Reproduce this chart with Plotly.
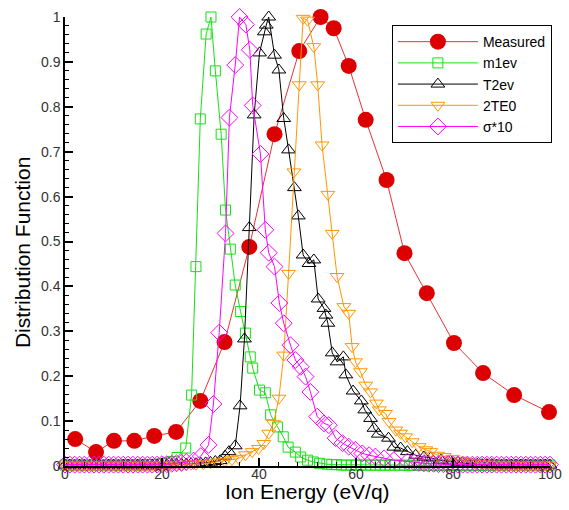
import plotly.graph_objects as go

# ---------------- data ----------------
measured_x = [2.1, 6.4, 10.1, 14.3, 18.4, 22.9, 27.9, 32.9, 38.0, 43.2, 48.3,
              52.7, 55.4, 58.5, 62.0, 66.3, 70.0, 74.6, 80.2, 86.2, 92.6, 99.8]
measured_y = [0.060, 0.031, 0.056, 0.056, 0.067, 0.076, 0.145, 0.276, 0.488, 0.739, 0.924,
              1.000, 0.975, 0.891, 0.771, 0.637, 0.474, 0.385, 0.274, 0.207, 0.158, 0.120]

m1ev_x = [0, 1, 2, 3, 4, 5, 6, 7, 8, 9,
          10, 11, 12, 13, 14, 15, 16, 17, 18, 19,
          20, 21, 22,
          23.1, 24.9, 26.1, 27.0, 27.9, 29.1, 30.1, 31.0, 32.2, 33.1,
          34.1, 35.1, 36.2, 37.2, 38.2, 38.7, 40.1, 41.3, 42.4, 43.8,
          45.0, 46.0, 47.5, 48.6, 50.0, 51.2, 52.5,
          54, 55, 56, 57, 58, 59, 60,
          61, 62, 63, 64, 65, 66, 67, 68, 69, 70,
          71, 72, 73, 74, 75, 76, 77, 78, 79, 80,
          81, 82, 83, 84, 85, 86, 87, 88, 89, 90,
          91, 92, 93, 94, 95, 96, 97, 98, 99, 100]
m1ev_y = [0.002, 0.001, 0.002, 0.002, 0.001, 0.002, 0.002, 0.001, 0.002, 0.002,
          0.002, 0.001, 0.002, 0.002, 0.002, 0.002, 0.002, 0.003, 0.003, 0.004,
          0.005, 0.007, 0.010,
          0.019, 0.040, 0.158, 0.444, 0.773, 0.962, 1.000, 0.880, 0.739, 0.570,
          0.483, 0.403, 0.344, 0.296, 0.243, 0.218, 0.169, 0.163, 0.114, 0.087,
          0.065, 0.042, 0.031, 0.020, 0.013, 0.009, 0.006,
          0.004, 0.003, 0.003, 0.002, 0.002, 0.002, 0.002,
          0.002, 0.002, 0.002, 0.002, 0.002, 0.002, 0.002, 0.002, 0.002, 0.002,
          0.001, 0.002, 0.001, 0.002, 0.001, 0.002, 0.001, 0.002, 0.001, 0.002,
          0.001, 0.002, 0.001, 0.002, 0.001, 0.002, 0.001, 0.002, 0.001, 0.002,
          0.001, 0.002, 0.001, 0.002, 0.001, 0.002, 0.001, 0.002, 0.001, 0.002]

t2ev_x = [0, 1, 2, 3, 4, 5, 6, 7, 8, 9,
          10, 11, 12, 13, 14, 15, 16, 17, 18, 19,
          20, 21, 22, 23, 24, 25, 26, 27, 28, 29,
          30, 31,
          32.0, 33.0, 33.8, 35.1, 36.1, 37.0, 38.0, 39.0, 40.1, 41.1,
          41.5, 42.0, 43.2, 44.1, 45.1, 46.1, 47.3, 48.1, 49.1, 50.3,
          51.3, 52.2, 53.4, 53.8, 54.2, 55.1, 56.1, 57.4, 57.9, 59.4,
          61.1, 61.8, 63.0, 63.7, 64.6, 66.7, 67.8, 69.2, 70.6, 72.3,
          74.0, 75.4, 77.5, 79.5, 81.0,
          82, 83, 84, 85, 86, 87, 88, 89, 90,
          91, 92, 93, 94, 95, 96, 97, 98, 99, 100]
t2ev_y = [0.002, 0.002, 0.001, 0.002, 0.002, 0.001, 0.002, 0.002, 0.001, 0.002,
          0.002, 0.001, 0.002, 0.002, 0.001, 0.002, 0.002, 0.001, 0.002, 0.002,
          0.002, 0.003, 0.003, 0.003, 0.004, 0.004, 0.005, 0.005, 0.006, 0.007,
          0.008, 0.010,
          0.012, 0.022, 0.032, 0.045, 0.134, 0.283, 0.531, 0.782, 0.920, 0.967,
          0.982, 1.000, 0.915, 0.882, 0.774, 0.704, 0.620, 0.557, 0.470, 0.451,
          0.459, 0.372, 0.351, 0.336, 0.318, 0.252, 0.232, 0.243, 0.203, 0.167,
          0.145, 0.125, 0.106, 0.084, 0.071, 0.062, 0.042, 0.040, 0.032, 0.024,
          0.020, 0.018, 0.013, 0.011, 0.008,
          0.006, 0.005, 0.004, 0.004, 0.003, 0.003, 0.003, 0.002, 0.002,
          0.002, 0.002, 0.002, 0.002, 0.002, 0.002, 0.002, 0.002, 0.002, 0.002]

te0_x = [0, 1, 2, 3, 4, 5, 6, 7, 8, 9,
         10, 11, 12, 13, 14, 15, 16, 17, 18, 19,
         20, 21, 22, 23, 24, 25, 26, 27,
         28.5, 30.0, 31.5, 33.0, 34.4, 35.8, 37.2, 38.6, 39.9, 41.0,
         42.0, 43.0, 44.1, 45.1, 46.1, 47.2, 48.3, 49.1, 50.0, 51.3,
         52.1, 53.0, 54.2, 55.1, 56.1, 57.5, 58.5, 59.2, 59.9, 60.9,
         62.0, 63.0, 64.2, 64.8, 66.1, 66.8, 68.2, 69.2, 70.2, 71.6,
         73.0, 74.4, 75.4, 76.8, 78.2, 79.9, 81.6, 83.0, 84.5,
         86, 87, 88, 89, 90, 91, 92, 93, 94, 95,
         96, 97, 98, 99, 100]
te0_y = [0.002, 0.002, 0.002, 0.002, 0.002, 0.002, 0.002, 0.002, 0.002, 0.002,
         0.002, 0.002, 0.002, 0.002, 0.002, 0.002, 0.002, 0.002, 0.002, 0.002,
         0.002, 0.003, 0.003, 0.003, 0.003, 0.004, 0.004, 0.004,
         0.005, 0.007, 0.009, 0.011, 0.014, 0.017, 0.025, 0.032, 0.039, 0.050,
         0.073, 0.095, 0.151, 0.247, 0.429, 0.655, 0.849, 0.997, 0.993, 0.934,
         0.849, 0.715, 0.605, 0.518, 0.422, 0.355, 0.340, 0.266, 0.232, 0.210,
         0.180, 0.165, 0.140, 0.125, 0.117, 0.099, 0.080, 0.073, 0.065, 0.054,
         0.043, 0.036, 0.032, 0.024, 0.021, 0.017, 0.013, 0.009, 0.007,
         0.005, 0.004, 0.004, 0.003, 0.003, 0.003, 0.002, 0.002, 0.002, 0.002,
         0.002, 0.002, 0.002, 0.002, 0.002]

sigma_x = [0, 1, 2, 3, 4, 5, 6, 7, 8, 9,
           10, 11, 12, 13, 14, 15, 16, 17, 18, 19,
           20, 21, 22, 23, 24, 25,
           26.5, 28.0, 29.6, 30.6, 31.8, 33.1, 33.9, 35.1, 36.0, 37.3,
           38.1, 38.7, 40.3, 41.3, 42.0, 43.2, 44.2, 45.1, 46.5, 47.5,
           48.6, 49.6, 50.6, 52.0, 53.4, 54.4, 55.8, 57.2, 58.5, 59.9,
           61.3, 62.7, 64.0, 65.8, 67.8, 70.6,
           72, 73, 74, 75, 76, 77, 78, 79, 80,
           81, 82, 83, 84, 85, 86, 87, 88, 89, 90,
           91, 92, 93, 94, 95, 96, 97, 98, 99, 100]
sigma_y = [0.003, 0.003, 0.003, 0.003, 0.003, 0.003, 0.003, 0.003, 0.003, 0.003,
           0.003, 0.003, 0.003, 0.003, 0.003, 0.003, 0.003, 0.003, 0.003, 0.003,
           0.004, 0.004, 0.005, 0.006, 0.007, 0.009,
           0.012, 0.022, 0.047, 0.138, 0.297, 0.518, 0.776, 0.893, 1.000, 0.983,
           0.927, 0.803, 0.695, 0.526, 0.475, 0.444, 0.363, 0.318, 0.269, 0.236,
           0.221, 0.199, 0.165, 0.110, 0.095, 0.091, 0.062, 0.051, 0.043, 0.036,
           0.028, 0.024, 0.021, 0.017, 0.013, 0.010,
           0.008, 0.007, 0.006, 0.005, 0.005, 0.004, 0.004, 0.004, 0.003,
           0.003, 0.003, 0.003, 0.003, 0.003, 0.003, 0.003, 0.003, 0.003, 0.003,
           0.003, 0.003, 0.003, 0.003, 0.003, 0.003, 0.003, 0.003, 0.003, 0.003]

for a, b in [(measured_x, measured_y), (m1ev_x, m1ev_y), (t2ev_x, t2ev_y),
             (te0_x, te0_y), (sigma_x, sigma_y)]:
    assert len(a) == len(b), (len(a), len(b))

FONT = "Liberation Sans, Arial, sans-serif"

fig = go.Figure()

fig.add_trace(go.Scatter(
    x=measured_x, y=measured_y, name="Measured", mode="lines+markers",
    line=dict(color="rgb(230,50,50)", width=1),
    marker=dict(symbol="circle", size=16, color="rgb(220,0,0)", line=dict(width=0)),
    cliponaxis=False))

fig.add_trace(go.Scatter(
    x=m1ev_x, y=m1ev_y, name="m1ev", mode="lines+markers",
    line=dict(color="rgb(20,225,20)", width=1),
    marker=dict(symbol="square-open", size=10, color="rgb(20,225,20)", line=dict(width=1)),
    cliponaxis=False))

fig.add_trace(go.Scatter(
    x=t2ev_x, y=t2ev_y, name="T2ev", mode="lines+markers",
    line=dict(color="black", width=1),
    marker=dict(symbol="triangle-up-open", size=12, color="black", line=dict(width=1)),
    cliponaxis=False))

fig.add_trace(go.Scatter(
    x=te0_x, y=te0_y, name="2TE0", mode="lines+markers",
    line=dict(color="rgb(255,150,0)", width=1),
    marker=dict(symbol="triangle-down-open", size=12, color="rgb(255,150,0)", line=dict(width=1)),
    cliponaxis=False))

fig.add_trace(go.Scatter(
    x=sigma_x, y=sigma_y, name="σ*10", mode="lines+markers",
    line=dict(color="rgb(255,0,255)", width=1),
    marker=dict(symbol="diamond-open", size=13, color="rgb(255,0,255)", line=dict(width=1)),
    cliponaxis=False))

fig.update_layout(
    width=569, height=510,
    margin=dict(l=65, r=19, t=17, b=44),
    paper_bgcolor="white", plot_bgcolor="white",
    font=dict(family=FONT, color="black"),
    showlegend=True,
    legend=dict(
        x=0.674, y=0.982, xanchor="left", yanchor="top",
        bordercolor="black", borderwidth=1, bgcolor="white",
        font=dict(family=FONT, size=14, color="black"),
        itemwidth=80, tracegroupgap=0,
    ),
    annotations=[
        dict(text="Ion Energy (eV/q)", xref="paper", yref="paper",
             x=0.5, y=-0.057, xanchor="center", yanchor="middle", showarrow=False,
             font=dict(family=FONT, size=21, color="black")),
        dict(text="Distribution Function", xref="paper", yref="paper",
             x=-0.088, y=0.475, xanchor="center", yanchor="middle", showarrow=False,
             textangle=-90, font=dict(family=FONT, size=21, color="black")),
    ],
)

fig.update_xaxes(
    range=[0, 100], showgrid=False, zeroline=False,
    showline=True, linecolor="black", linewidth=1.5,
    ticks="inside", ticklen=8, tickwidth=1.5, tickcolor="black",
    dtick=20, tick0=0, ticklabelstandoff=-6,
    minor=dict(ticks="inside", ticklen=4, tickwidth=1, tickcolor="black", dtick=4),
    tickfont=dict(family=FONT, size=14, color="#333"),
    automargin=False,
)
fig.update_yaxes(
    range=[0, 1], showgrid=False, zeroline=False,
    showline=True, linecolor="black", linewidth=1.5,
    ticks="inside", ticklen=8, tickwidth=1.5, tickcolor="black",
    dtick=0.1, tick0=0,
    minor=dict(ticks="inside", ticklen=4, tickwidth=1, tickcolor="black", dtick=0.02),
    tickfont=dict(family=FONT, size=14, color="#333"),
    automargin=False,
)

fig.write_html("out.html")
